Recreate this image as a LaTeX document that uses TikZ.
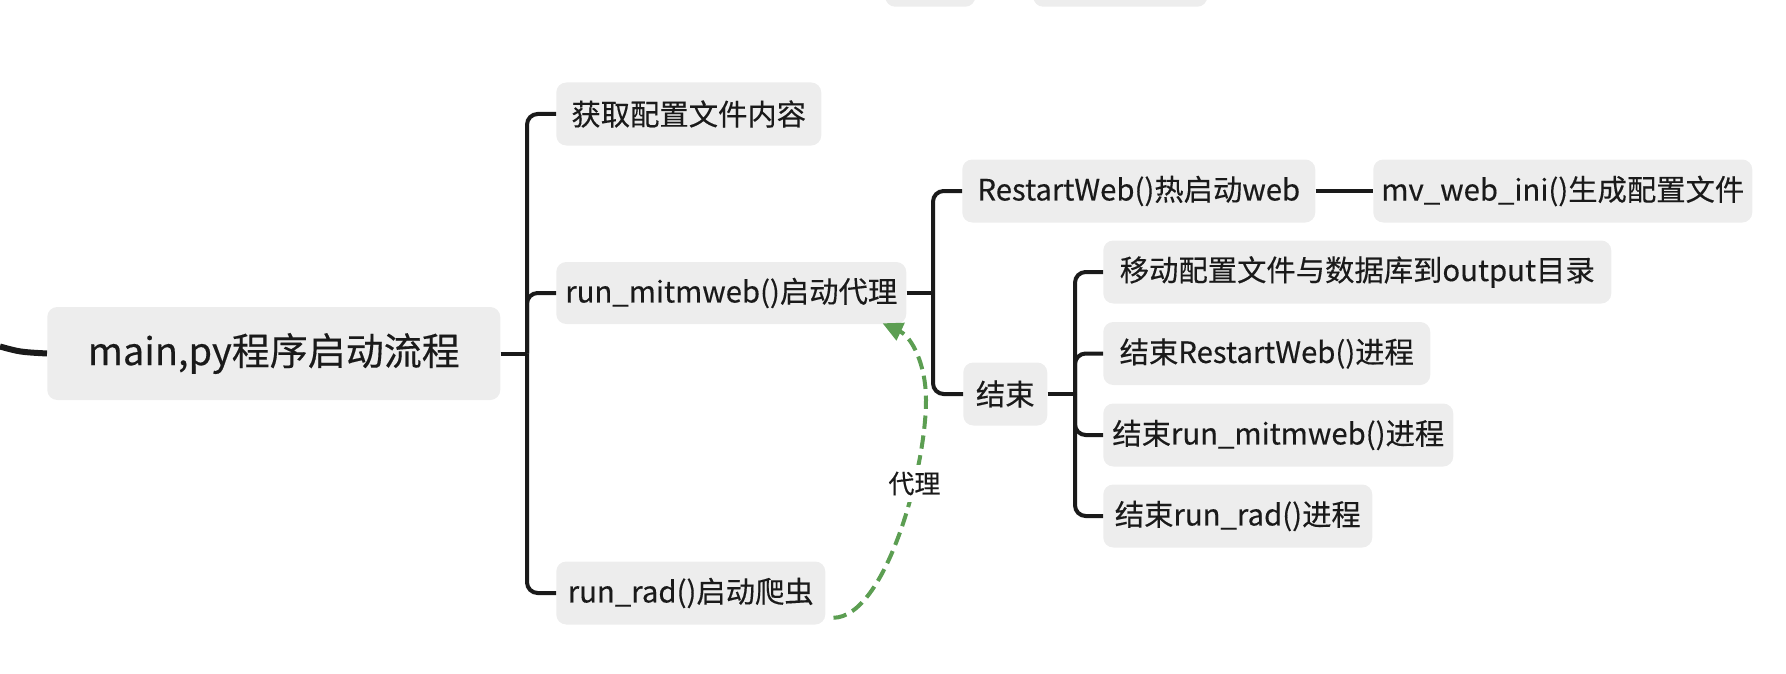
\documentclass[tikz,border=0pt]{standalone}
\usepackage{fontspec}
\setmainfont{Noto Sans CJK SC}[FakeBold=0.3]
\usetikzlibrary{arrows.meta}
\definecolor{boxgray}{RGB}{237,237,237}
\definecolor{ink}{RGB}{26,26,26}
\definecolor{linkgreen}{RGB}{92,158,82}
\begin{document}
\begin{tikzpicture}[x=0.75pt,y=-0.75pt,
  topicbox/.style={fill=boxgray, rounded corners=7.5pt, inner xsep=0pt, inner ysep=0pt,
    minimum height=47.25pt, anchor=west, text=ink, font=\fontsize{22pt}{26pt}\selectfont},
  mainbox/.style={topicbox, minimum height=69.75pt, font=\fontsize{28.5pt}{32pt}\selectfont},
  stubbox/.style={fill=boxgray, rounded corners=7.5pt, inner sep=0pt, anchor=south west, minimum height=40pt},
  conn/.style={draw=ink, line width=3pt, rounded corners=8pt},
  proxylink/.style={draw=linkgreen, line width=3pt, dash pattern=on 10pt off 5pt,
    -{Triangle[length=15pt,width=14pt]}, fill=none},
]
\clip (0,0) rectangle (1786,674);
\useasboundingbox (0,0) rectangle (1786,674);

% partial boxes cut at the top
\node[stubbox, minimum width=67.5pt] (top1) at (885,7) {};
\node[stubbox, minimum width=130.5pt] (top2) at (1033,7) {};

% main topic
\node[mainbox, minimum width=339.75pt] (main) at (47,353.5) {main,py程序启动流程};
\coordinate (inL) at (0,346.5);
\draw[draw=ink, line width=4.5pt] (inL) .. controls (20,352) .. (main.west);

% first level
\node[topicbox, minimum width=198.75pt] (c1) at (556,114) {获取配置文件内容};
\node[topicbox, minimum width=262.5pt, minimum height=46.5pt] (c2) at (556,293) {run\_mitmweb()启动代理};
\node[topicbox, minimum width=201.75pt] (c3) at (556,593) {run\_rad()启动爬虫};

\coordinate (j1) at (527,353.5);
\draw[conn] (main.east) -- (j1);
\draw[conn] (j1) |- (c1.west);
\draw[conn] (j1) |- (c2.west);
\draw[conn] (j1) |- (c3.west);

% second level
\node[topicbox, minimum width=264.75pt] (rw) at (962,191) {RestartWeb()热启动web};
\node[topicbox, minimum width=284.25pt] (mv) at (1373,191) {mv\_web\_ini()生成配置文件};
\node[topicbox, minimum width=63pt] (end) at (963,394) {结束};

\coordinate (j2) at (933,293);
\draw[conn] (c2.east) -- (j2);
\draw[conn] (j2) |- (rw.west);
\draw[conn] (j2) |- (end.west);
\draw[conn] (rw.east) -- (mv.west);

% third level
\node[topicbox, minimum width=381pt] (e1) at (1103,272) {移动配置文件与数据库到output目录};
\node[topicbox, minimum width=245.25pt] (e2) at (1103,353.5) {结束RestartWeb()进程};
\node[topicbox, minimum width=262.5pt] (e3) at (1103,435) {结束run\_mitmweb()进程};
\node[topicbox, minimum width=201.75pt] (e4) at (1103,516) {结束run\_rad()进程};

\coordinate (j3) at (1075,394);
\draw[conn] (end.east) -- (j3);
\draw[conn] (j3) |- (e1.west);
\draw[conn] (j3) |- (e2.west);
\draw[conn] (j3) |- (e3.west);
\draw[conn] (j3) |- (e4.west);

% proxy relation
\coordinate (gs) at ([shift={(8,-7)}]c3.south east);
\coordinate (gm) at (926,400);
\coordinate (ge) at ([shift={(-24,-1)}]c2.south east);
\draw[proxylink] (gs) .. controls (885,617) and (926,470) ..
  node[pos=0.68, fill=white, inner xsep=1pt, inner ysep=5pt, text=ink, font=\fontsize{19.5pt}{22pt}\selectfont] (lbl) {代理}
  (gm) .. controls (926,365) and (912,337) .. (ge);
\end{tikzpicture}
\end{document}
